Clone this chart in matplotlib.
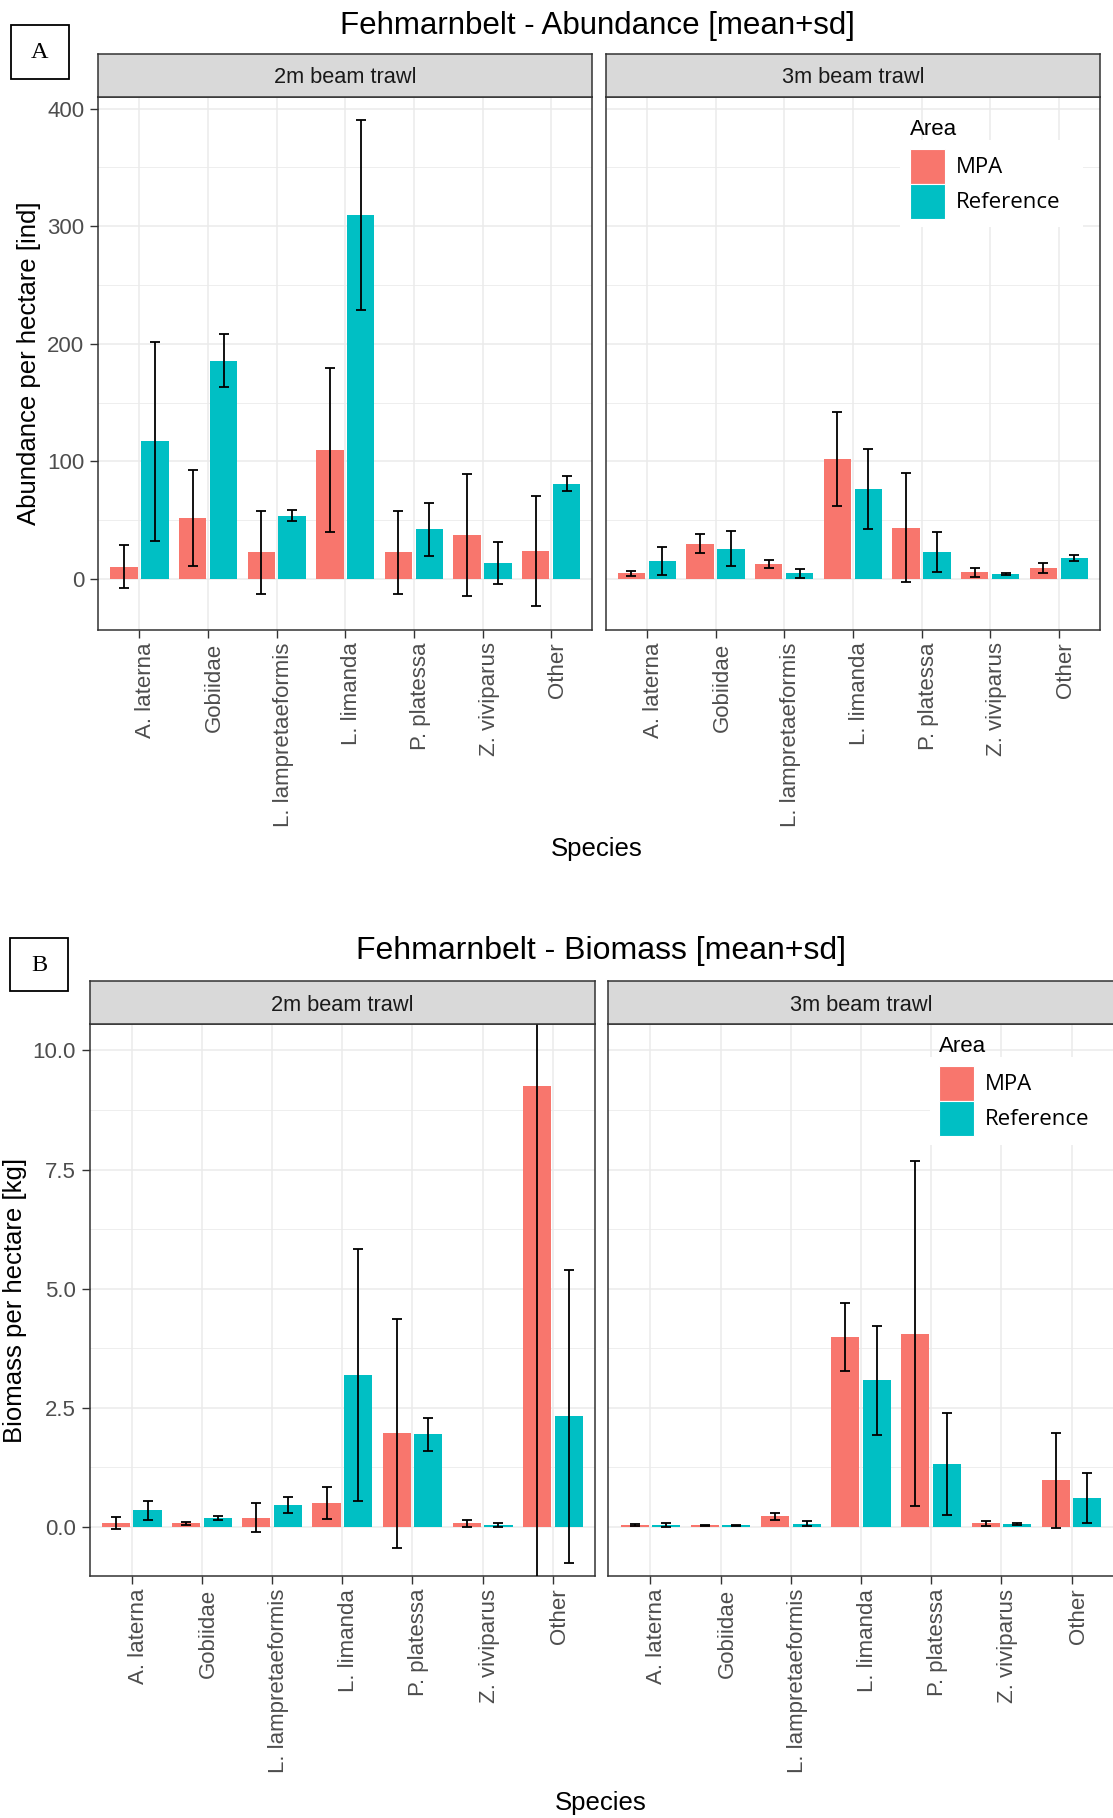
import numpy as np
import matplotlib
matplotlib.use("Agg")
import matplotlib.pyplot as plt
import matplotlib.transforms as mtransforms
from matplotlib.patches import Rectangle
from matplotlib.ticker import FixedLocator

# ---------------- data ----------------
species = ["A. laterna", "Gobiidae", "L. lampretaeformis", "L. limanda",
           "P. platessa", "Z. viviparus", "Other"]
facets = ["2m beam trawl", "3m beam trawl"]
areas = ["MPA", "Reference"]

# Abundance [ind/ha]
abund_2m_mpa = [10.5, 52, 22.7, 109.5, 22.7, 37.5, 24]
abund_2m_mpa_sd = [18.5, 41, 35.4, 69.6, 35.4, 51.7, 46.7]
abund_2m_ref = [117, 185.5, 53.7, 309.6, 42, 13.6, 81]
abund_2m_ref_sd = [84.6, 22.5, 4.5, 80.6, 22.6, 18, 6.2]
abund_3m_mpa = [4.6, 30, 12.8, 102, 43.5, 5.5, 9.2]
abund_3m_mpa_sd = [2.3, 8.2, 3.6, 40, 46.5, 3.6, 3.9]
abund_3m_ref = [15.4, 25.8, 4.6, 76.5, 22.5, 4.2, 17.5]
abund_3m_ref_sd = [12, 15, 3.6, 34, 17, 1.0, 2.5]

# Biomass [kg/ha]
bio_2m_mpa = [0.075, 0.075, 0.19, 0.5, 1.96, 0.07, 9.25]
bio_2m_mpa_sd = [0.13, 0.03, 0.3, 0.33, 2.41, 0.075, 11.0]
bio_2m_ref = [0.34, 0.19, 0.46, 3.18, 1.94, 0.035, 2.32]
bio_2m_ref_sd = [0.2, 0.04, 0.17, 2.65, 0.35, 0.04, 3.08]
bio_3m_mpa = [0.035, 0.03, 0.22, 3.98, 4.05, 0.07, 0.97]
bio_3m_mpa_sd = [0.015, 0.01, 0.07, 0.72, 3.62, 0.05, 1.0]
bio_3m_ref = [0.035, 0.025, 0.06, 3.07, 1.31, 0.05, 0.6]
bio_3m_ref_sd = [0.04, 0.01, 0.05, 1.14, 1.07, 0.02, 0.53]

abund_yticks = [0, 100, 200, 300, 400]
abund_yminor = [50, 150, 250, 350]
bio_yticks = [0.0, 2.5, 5.0, 7.5, 10.0]
bio_yminor = [1.25, 3.75, 6.25, 8.75]
bio_ylabels = ["0.0", "2.5", "5.0", "7.5", "10.0"]

# ---------------- style ----------------
W, H = 1113, 1818
SANS = ["Liberation Sans", "DejaVu Sans"]
COL_MPA = "#F8766D"
COL_REF = "#00BFC4"
GRID = "#EBEBEB"
DARK = "#333333"

fig = plt.figure(figsize=(W / 100, H / 100), dpi=100)
fig.patch.set_facecolor("white")


def add_ax(x0, y0, x1, y1):
    return fig.add_axes([x0 / W, 1 - y1 / H, (x1 - x0) / W, (y1 - y0) / H])


def ftext(x, y, s, **kw):
    fig.text(x / W, 1 - y / H, s, **kw)


def frect(x0, y0, x1, y1, **kw):
    fig.patches.append(Rectangle((x0 / W, 1 - y1 / H), (x1 - x0) / W, (y1 - y0) / H,
                                 transform=fig.transFigure, figure=fig, **kw))


def strip(x0, y0, x1, y1, label):
    s = add_ax(x0, y0, x1, y1)
    s.set_facecolor("#D9D9D9")
    s.set_xticks([])
    s.set_yticks([])
    for sp in s.spines.values():
        sp.set_color(DARK)
        sp.set_linewidth(1.1)
    s.text(0.5, 0.44, label, transform=s.transAxes, ha="center", va="center",
           fontsize=15.7, color="#1A1A1A", family=SANS)


def panel(ax, mpa, mpa_sd, ref, ref_sd, ylim, yt, ymin, ylabels, show_y):
    x = np.arange(len(species))
    ax.set_xlim(-0.6, len(species) - 0.4)
    ax.set_ylim(*ylim)
    ax.yaxis.set_major_locator(FixedLocator(yt))
    ax.yaxis.set_minor_locator(FixedLocator(ymin))
    ax.set_xticks(x)
    ax.set_xticklabels([""] * len(species))
    # x tick labels as rotated texts (slightly right of the tick, as in ggplot)
    trans = mtransforms.blended_transform_factory(ax.transData, ax.transAxes) + \
        mtransforms.ScaledTranslation(6.5 / 100, -12.5 / 100, fig.dpi_scale_trans)
    for xi, name in zip(x, species):
        ax.text(xi, 0, name, transform=trans, rotation=90, ha="center", va="top",
                fontsize=16, color="#4D4D4D", family=SANS, clip_on=False)
    ax.grid(True, which="major", color=GRID, lw=1.1, zorder=0)
    ax.grid(True, which="minor", axis="y", color=GRID, lw=0.6, zorder=0)
    ax.set_axisbelow(True)
    ax.bar(x - 0.225, mpa, width=0.4, color=COL_MPA, zorder=2)
    ax.bar(x + 0.225, ref, width=0.4, color=COL_REF, zorder=2)
    ax.errorbar(x - 0.225, mpa, yerr=mpa_sd, fmt="none", ecolor="black",
                elinewidth=1.3, capsize=3.8, capthick=1.3, zorder=3)
    ax.errorbar(x + 0.225, ref, yerr=ref_sd, fmt="none", ecolor="black",
                elinewidth=1.3, capsize=3.8, capthick=1.3, zorder=3)
    ax.tick_params(axis="x", length=5.5, width=1, color=DARK, pad=3.5)
    ax.tick_params(axis="y", which="minor", left=False)
    if show_y:
        ax.set_yticklabels(ylabels, fontsize=16, color="#4D4D4D", family=SANS)
        ax.tick_params(axis="y", which="major", length=5.5, width=1, color=DARK, pad=4.5)
    else:
        ax.tick_params(axis="y", which="major", left=False, labelleft=False)
    for sp in ax.spines.values():
        sp.set_color(DARK)
        sp.set_linewidth(1.1)


def legend(tx, ty, kx0, kx1, ky0, ky1, ky2, bx0, by0, bx1, by1, lx):
    frect(bx0, by0, bx1, by1, facecolor="white", edgecolor="none", zorder=2)
    ftext(tx, ty, "Area", ha="left", va="center", fontsize=16, family=SANS, zorder=4)
    frect(kx0, ky0, kx1, ky1, facecolor=COL_MPA, edgecolor="white", lw=0.8, zorder=3)
    frect(kx0, ky1, kx1, ky2, facecolor=COL_REF, edgecolor="white", lw=0.8, zorder=3)
    ftext(lx, (ky0 + ky1) / 2 + 1.5, areas[0], ha="left", va="center", fontsize=16,
          family=["Open Sans", "DejaVu Sans"], zorder=4)
    ftext(lx, (ky1 + ky2) / 2 + 1, areas[1], ha="left", va="center", fontsize=16,
          family=["Open Sans", "DejaVu Sans"], zorder=4)


def label_box(x0, y0, x1, y1, s):
    frect(x0, y0, x1, y1, facecolor="white", edgecolor="black", lw=1.3, zorder=2)
    ftext((x0 + x1) / 2, (y0 + y1) / 2 + 1, s, ha="center", va="center", fontsize=17.5,
          family=["Liberation Serif", "DejaVu Serif"], zorder=4)


# ---------------- Panel A ----------------
A_ylim = (-43.5, 410.3)
axA1 = add_ax(98.3, 96.5, 592.3, 630)
panel(axA1, abund_2m_mpa, abund_2m_mpa_sd, abund_2m_ref, abund_2m_ref_sd,
      A_ylim, abund_yticks, abund_yminor, [str(v) for v in abund_yticks], True)
axA2 = add_ax(605.7, 96.5, 1100, 630)
panel(axA2, abund_3m_mpa, abund_3m_mpa_sd, abund_3m_ref, abund_3m_ref_sd,
      A_ylim, abund_yticks, abund_yminor, None, False)
strip(98.3, 53.5, 592.3, 96.5, facets[0])
strip(605.7, 53.5, 1100, 96.5, facets[1])
ftext(597, 26, "Fehmarnbelt - Abundance [mean+sd]", ha="center", va="center",
      fontsize=22.5, family=SANS)
ftext(29, 363, "Abundance per hectare [ind]", ha="center", va="center",
      rotation=90, fontsize=18.5, family=SANS)
ftext(597, 849, "Species", ha="center", va="center", fontsize=18.5, family=SANS)
legend(910, 129.5, 910, 944.5, 148.7, 184, 219, 900, 140, 1083, 227, 955.7)
label_box(11, 25, 68.5, 79, "A")

# ---------------- Panel B ----------------
B_ylim = (-1.04, 10.55)
axB1 = add_ax(89.6, 1024.3, 595, 1576.2)
panel(axB1, bio_2m_mpa, bio_2m_mpa_sd, bio_2m_ref, bio_2m_ref_sd,
      B_ylim, bio_yticks, bio_yminor, bio_ylabels, True)
axB2 = add_ax(608.3, 1024.3, 1113.7, 1576.2)
panel(axB2, bio_3m_mpa, bio_3m_mpa_sd, bio_3m_ref, bio_3m_ref_sd,
      B_ylim, bio_yticks, bio_yminor, None, False)
strip(89.6, 981.2, 595, 1024.3, facets[0])
strip(608.3, 981.2, 1113.7, 1024.3, facets[1])
ftext(601, 951.5, "Fehmarnbelt - Biomass [mean+sd]", ha="center", va="center",
      fontsize=23, family=SANS)
ftext(15, 1300, "Biomass per hectare [kg]", ha="center", va="center",
      rotation=90, fontsize=18.5, family=SANS)
ftext(601, 1803, "Species", ha="center", va="center", fontsize=18.5, family=SANS)
legend(939.3, 1046.5, 939.3, 974.3, 1066, 1101, 1136, 930, 1057, 1113, 1145, 985.3)
label_box(10, 938, 68, 991.5, "B")

fig.savefig("out.png", dpi=100, facecolor="white")
